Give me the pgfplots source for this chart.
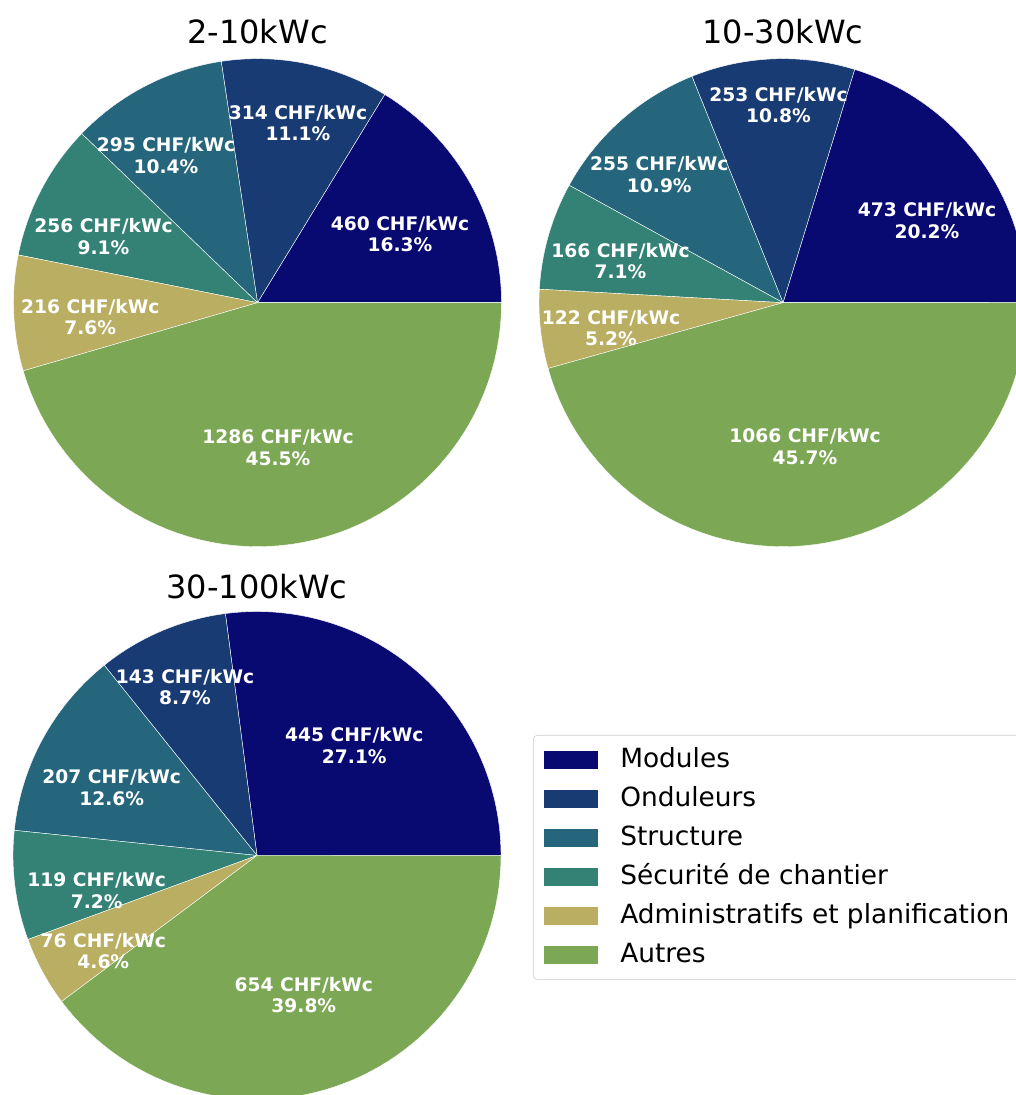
\documentclass[border=0pt]{standalone}
\usepackage{fontspec}
\setmainfont{DejaVu Sans}
\usepackage{pgfplots}
\pgfplotsset{compat=1.18}
\definecolor{cMod}{RGB}{9,9,114}
\definecolor{cOnd}{RGB}{25,59,116}
\definecolor{cStr}{RGB}{37,102,124}
\definecolor{cSec}{RGB}{51,130,117}
\definecolor{cAdm}{RGB}{185,174,98}
\definecolor{cAut}{RGB}{124,167,84}
\newcommand\R{244}
\newcommand\wedgeplot[3]{\addplot[fill=#3, draw=white, line width=0.3pt, domain=#1:#2, samples=61, variable=\t] ({\R*cos(\t)},{\R*sin(\t)}) -- (axis cs:0,0) -- cycle;}
\newcommand\lab[3]{\node[text=white,font=\fontsize{14}{16.1}\selectfont\bfseries,align=center,inner sep=0pt] at (axis cs:#1,#2) {#3};}
\newcommand\ttl[2]{\node[font=\fontsize{24}{28}\selectfont,inner sep=0pt] at (axis cs:0,#1) {#2};}
\pgfplotsset{pie/.style={width=375pt,height=375pt,scale only axis,xmin=-250,xmax=250,ymin=-250,ymax=250,hide axis,clip=false,anchor=center}}
% values in CHF/kWc: Modules, Onduleurs, Structure, Securite, Administratifs, Autres
\pgfmathsetmacro\Ta{460+314+295+256+216+1286}
\pgfmathsetmacro\aA{460/\Ta*360}
\pgfmathsetmacro\aB{\aA+314/\Ta*360}
\pgfmathsetmacro\aC{\aB+295/\Ta*360}
\pgfmathsetmacro\aD{\aC+256/\Ta*360}
\pgfmathsetmacro\aE{\aD+216/\Ta*360}
\pgfmathsetmacro\Tb{473+253+255+166+122+1066}
\pgfmathsetmacro\bA{473/\Tb*360}
\pgfmathsetmacro\bB{\bA+253/\Tb*360}
\pgfmathsetmacro\bC{\bB+255/\Tb*360}
\pgfmathsetmacro\bD{\bC+166/\Tb*360}
\pgfmathsetmacro\bE{\bD+122/\Tb*360}
\pgfmathsetmacro\Tc{445+143+207+119+76+654}
\pgfmathsetmacro\cA{445/\Tc*360}
\pgfmathsetmacro\cB{\cA+143/\Tc*360}
\pgfmathsetmacro\cC{\cB+207/\Tc*360}
\pgfmathsetmacro\cD{\cC+119/\Tc*360}
\pgfmathsetmacro\cE{\cD+76/\Tc*360}
\begin{document}
\begin{tikzpicture}[x=0.75pt,y=0.75pt]
\useasboundingbox (0,0) rectangle (1016,1095);
\clip (0,0) rectangle (1016,1095);
% ---------- 2-10kWc
\begin{axis}[pie, at={(257.5,792.3)}]
\wedgeplot{0}{\aA}{cMod}
\wedgeplot{\aA}{\aB}{cOnd}
\wedgeplot{\aB}{\aC}{cStr}
\wedgeplot{\aC}{\aD}{cSec}
\wedgeplot{\aD}{\aE}{cAdm}
\wedgeplot{\aE}{360}{cAut}
\lab{142.5}{68.7}{460 CHF/kWc\\16.3\%}
\lab{40.5}{179.7}{314 CHF/kWc\\11.1\%}
\lab{-91.5}{147.2}{295 CHF/kWc\\10.4\%}
\lab{-154}{66.2}{256 CHF/kWc\\9.1\%}
\lab{-167.2}{-14.3}{216 CHF/kWc\\7.6\%}
\lab{20.5}{-144.8}{1286 CHF/kWc\\45.5\%}
\ttl{270.7}{2-10kWc}
\end{axis}
% ---------- 10-30kWc
\begin{axis}[pie, at={(783,792.3)}]
\wedgeplot{0}{\bA}{cMod}
\wedgeplot{\bA}{\bB}{cOnd}
\wedgeplot{\bB}{\bC}{cStr}
\wedgeplot{\bC}{\bD}{cSec}
\wedgeplot{\bD}{\bE}{cAdm}
\wedgeplot{\bE}{360}{cAut}
\lab{144}{82.2}{473 CHF/kWc\\20.2\%}
\lab{-4.5}{197.7}{253 CHF/kWc\\10.8\%}
\lab{-123.7}{128}{255 CHF/kWc\\10.9\%}
\lab{-162.5}{41.7}{166 CHF/kWc\\7.1\%}
\lab{-172}{-25.3}{122 CHF/kWc\\5.2\%}
\lab{22}{-143.8}{1066 CHF/kWc\\45.7\%}
\ttl{270.7}{10-30kWc}
\end{axis}
% ---------- 30-100kWc
\begin{axis}[pie, at={(257,239.5)},
  legend entries={Modules,Onduleurs,Structure,Sécurité de chantier,Administratifs et planification,Autres},
  legend cell align=left,
  legend image code/.code={\fill[#1,draw=none,sharp corners] (0pt,-6.6pt) rectangle (40.5pt,6.6pt);},
  legend style={at={(1.052,0.741)},anchor=north west,draw=black!20,rounded corners=3pt,fill=white,
    font=\fontsize{19.8}{23}\selectfont,inner xsep=8.25pt,inner ysep=9pt,row sep=10.25pt,
    nodes={inner sep=0pt,text height=15pt,text depth=4pt},/tikz/column sep=16.5pt}]
\wedgeplot{0}{\cA}{cMod}
\wedgeplot{\cA}{\cB}{cOnd}
\wedgeplot{\cB}{\cC}{cStr}
\wedgeplot{\cC}{\cD}{cSec}
\wedgeplot{\cD}{\cE}{cAdm}
\wedgeplot{\cE}{360}{cAut}
\lab{97.3}{110}{445 CHF/kWc\\27.1\%}
\lab{-72}{168.5}{143 CHF/kWc\\8.7\%}
\lab{-145.3}{68}{207 CHF/kWc\\12.6\%}
\lab{-160.3}{-35}{119 CHF/kWc\\7.2\%}
\lab{-153.7}{-95.5}{76 CHF/kWc\\4.6\%}
\lab{46.8}{-139.5}{654 CHF/kWc\\39.8\%}
\ttl{268.8}{30-100kWc}
\end{axis}
\end{tikzpicture}
\end{document}
